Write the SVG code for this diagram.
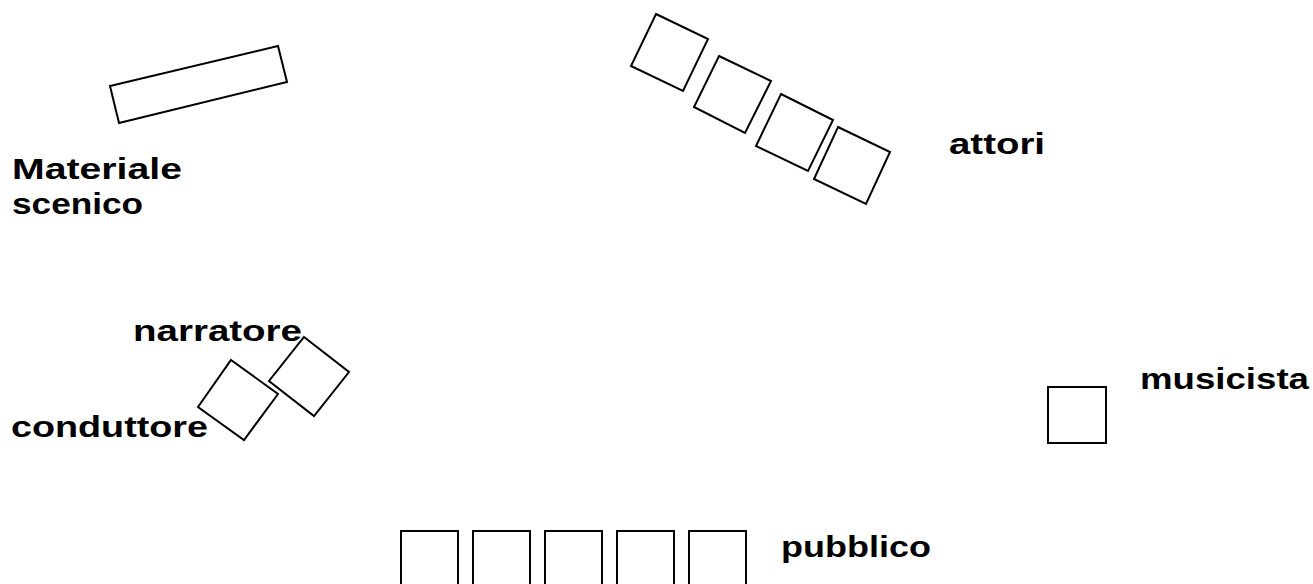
<svg xmlns="http://www.w3.org/2000/svg" width="1313" height="584" viewBox="0 0 1313 584">
<style>
.s{fill:#fff;stroke:#000;stroke-width:2}
.t{font-family:"Liberation Sans",Arial,sans-serif;font-weight:bold;font-size:29px;fill:#000}
</style>
<rect width="1313" height="584" fill="#fff"/>
<g id="materiale">
<polygon class="s" points="110,86 278,46 287,82 119,123"/>
<text class="t" x="12" y="179" textLength="170" lengthAdjust="spacingAndGlyphs">Materiale</text>
<text class="t" x="12" y="214" textLength="131" lengthAdjust="spacingAndGlyphs">scenico</text>
</g>
<g id="attori">
<polygon class="s" points="656,14 708,39 683,91 631,66"/>
<polygon class="s" points="719,56 771,81 745,133 694,107"/>
<polygon class="s" points="781,94 833,120 808,171 756,146"/>
<polygon class="s" points="838,127 890,152 866,204 814,179"/>
<text class="t" x="949" y="154" textLength="96" lengthAdjust="spacingAndGlyphs">attori</text>
</g>
<g id="narratore">
<polygon class="s" points="304,337 349,372 314,416 269,381"/>
<text class="t" x="133" y="341" textLength="169" lengthAdjust="spacingAndGlyphs">narratore</text>
</g>
<g id="conduttore">
<polygon class="s" points="231,360 278,394 244,440 198,407"/>
<text class="t" x="11" y="437" textLength="197" lengthAdjust="spacingAndGlyphs">conduttore</text>
</g>
<g id="musicista">
<rect class="s" x="1048" y="387" width="58" height="56"/>
<text class="t" x="1140" y="389" textLength="169" lengthAdjust="spacingAndGlyphs">musicista</text>
</g>
<g id="pubblico">
<rect class="s" x="401" y="531" width="57" height="70"/>
<rect class="s" x="473" y="531" width="57" height="70"/>
<rect class="s" x="545" y="531" width="57" height="70"/>
<rect class="s" x="617" y="531" width="57" height="70"/>
<rect class="s" x="689" y="531" width="57" height="70"/>
<text class="t" x="781" y="557" textLength="150" lengthAdjust="spacingAndGlyphs">pubblico</text>
</g>
<g id="connectors"></g>
</svg>
